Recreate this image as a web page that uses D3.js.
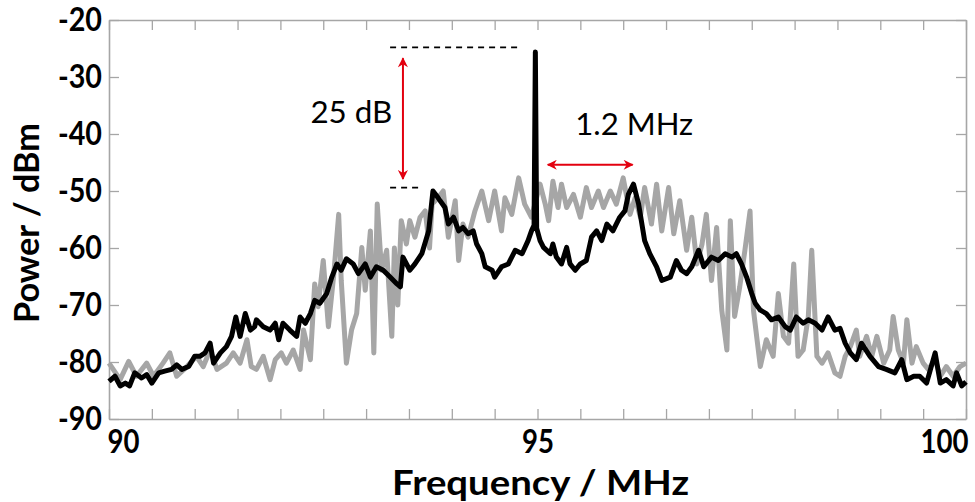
<!DOCTYPE html>
<html><head><meta charset="utf-8">
<script src="https://cdn.jsdelivr.net/npm/d3@7"></script>
<style>
html,body{margin:0;padding:0;background:#fff;}
svg{display:block;}
</style></head>
<body><svg id="chart" width="975" height="502"></svg>
<script>
// ---- data ----
const xTickValues = [90,90.5,91,91.5,92,92.5,93,93.5,94,94.5,95,95.5,96,96.5,97,97.5,98,98.5,99,99.5,100];
const xTickLabels = {90:"90",95:"95",100:"100"};
const yTickValues = [-90,-80,-70,-60,-50,-40,-30,-20];

const freqGray = [90.00,90.13,90.23,90.32,90.44,90.52,90.63,90.71,90.79,90.91,91.02,91.10,91.18,91.26,91.37,91.45,91.53,91.61,91.66,91.72,91.80,91.88,91.94,92.01,92.07,92.15,92.23,92.27,92.35,92.40,92.44,92.50,92.56,92.62,92.68,92.71,92.77,92.83,92.89,92.95,92.99,93.05,93.09,93.13,93.18,93.24,93.30,93.33,93.37,93.41,93.47,93.51,93.57,93.63,93.69,93.74,93.77,93.84,93.90,93.96,94.04,94.08,94.13,94.19,94.27,94.35,94.43,94.50,94.58,94.62,94.70,94.78,94.85,94.93,95.03,95.09,95.13,95.18,95.24,95.28,95.34,95.42,95.50,95.57,95.63,95.71,95.77,95.85,95.92,96.00,96.08,96.14,96.20,96.25,96.33,96.39,96.45,96.53,96.59,96.66,96.74,96.80,96.86,96.92,96.97,97.03,97.09,97.15,97.21,97.25,97.30,97.36,97.42,97.48,97.52,97.60,97.67,97.75,97.81,97.87,97.93,97.99,98.04,98.10,98.16,98.20,98.26,98.32,98.39,98.47,98.53,98.59,98.65,98.72,98.76,98.84,98.90,98.96,99.04,99.11,99.15,99.21,99.27,99.31,99.37,99.42,99.50,99.56,99.64,99.70,99.77,99.85,99.93,100.00];
const powerGray = [-80.2,-83.1,-79.9,-82.5,-80.2,-82.5,-80.2,-78.4,-82.5,-80.8,-79.0,-80.8,-77.9,-81.3,-80.2,-78.4,-80.2,-76.1,-80.8,-81.3,-79.0,-83.1,-79.6,-78.4,-80.2,-77.9,-81.3,-74.4,-79.6,-66.3,-70.3,-62.2,-73.8,-65.1,-54.1,-65.7,-80.2,-74.4,-71.5,-59.9,-67.4,-57.0,-78.4,-52.3,-63.9,-60.4,-75.5,-60.0,-70.0,-55.2,-59.3,-55.2,-58.1,-54.6,-53.5,-60.0,-52.3,-51.2,-50.0,-58.1,-51.7,-62.2,-55.8,-58.1,-53.5,-50.0,-55.2,-50.0,-57.0,-51.2,-54.1,-47.7,-52.3,-54.6,-48.8,-52.3,-55.2,-48.3,-52.9,-48.8,-52.9,-50.6,-54.6,-49.4,-52.9,-50.0,-52.9,-50.0,-52.3,-47.7,-54.1,-51.2,-54.6,-49.4,-55.8,-48.8,-57.0,-49.4,-57.5,-51.7,-60.4,-54.6,-62.8,-59.3,-54.1,-65.7,-56.4,-70.9,-77.9,-55.2,-72.0,-66.8,-60.4,-53.5,-70.9,-80.8,-76.1,-79.0,-68.0,-75.5,-76.7,-62.8,-79.0,-77.9,-72.0,-60.4,-79.0,-80.2,-78.4,-81.9,-82.5,-79.0,-77.3,-74.4,-79.0,-75.5,-79.0,-75.5,-80.2,-77.9,-72.0,-77.9,-80.2,-72.6,-80.2,-77.3,-80.2,-81.3,-79.6,-82.5,-80.8,-82.5,-80.8,-80.2];

const freqBlack = [90.00,90.07,90.13,90.19,90.24,90.30,90.38,90.44,90.50,90.58,90.65,90.73,90.79,90.85,90.93,91.00,91.06,91.12,91.18,91.22,91.30,91.37,91.43,91.48,91.53,91.59,91.65,91.70,91.72,91.80,91.88,91.94,91.98,92.03,92.11,92.19,92.23,92.29,92.35,92.40,92.46,92.54,92.60,92.66,92.71,92.77,92.85,92.91,92.99,93.05,93.12,93.20,93.28,93.36,93.40,93.43,93.51,93.57,93.65,93.73,93.78,93.84,93.92,93.96,94.02,94.08,94.13,94.19,94.25,94.29,94.35,94.39,94.47,94.50,94.58,94.66,94.74,94.82,94.89,94.93,94.96,94.975,94.99,95.03,95.07,95.15,95.18,95.22,95.28,95.34,95.38,95.44,95.50,95.57,95.63,95.69,95.75,95.81,95.88,95.96,96.02,96.06,96.12,96.18,96.25,96.31,96.39,96.45,96.55,96.62,96.68,96.74,96.80,96.88,96.94,97.03,97.11,97.19,97.27,97.32,97.38,97.44,97.50,97.54,97.60,97.67,97.73,97.81,97.89,97.95,98.02,98.10,98.16,98.24,98.32,98.39,98.47,98.53,98.59,98.65,98.72,98.78,98.88,98.98,99.07,99.17,99.25,99.31,99.39,99.46,99.54,99.64,99.70,99.77,99.85,99.89,99.95,100.00];
const powerBlack = [-83.4,-82.5,-84.2,-83.7,-84.2,-81.9,-82.8,-82.2,-83.7,-81.9,-81.6,-81.3,-80.5,-81.3,-80.8,-79.0,-79.0,-78.4,-76.7,-80.2,-78.4,-77.3,-75.5,-72.1,-75.5,-71.5,-74.4,-73.8,-72.6,-73.8,-74.4,-73.2,-76.1,-73.2,-74.4,-75.5,-72.1,-73.2,-71.5,-69.2,-69.7,-68.0,-65.1,-62.8,-63.9,-61.9,-62.8,-64.5,-62.8,-65.1,-63.3,-63.9,-65.1,-66.3,-66.8,-61.6,-63.9,-62.8,-61.0,-57.0,-50.0,-51.2,-52.9,-55.8,-54.6,-57.0,-56.4,-57.5,-57.0,-59.3,-61.0,-63.3,-63.9,-65.1,-63.3,-62.8,-60.4,-61.0,-58.7,-57.0,-56.0,-25.6,-56.5,-58.7,-59.9,-61.0,-59.3,-61.6,-62.8,-59.9,-62.8,-63.9,-62.8,-62.2,-58.1,-57.0,-58.7,-55.8,-57.0,-54.6,-53.5,-50.6,-48.8,-52.3,-58.7,-61.0,-63.3,-65.7,-65.1,-62.2,-63.9,-64.5,-63.3,-60.4,-63.3,-61.6,-62.2,-61.0,-61.6,-61.0,-62.8,-65.1,-68.0,-69.7,-70.9,-71.5,-72.6,-72.1,-73.8,-74.4,-72.1,-73.2,-72.6,-73.2,-74.4,-72.1,-74.4,-74.1,-76.7,-78.4,-79.6,-76.7,-79.0,-80.8,-81.3,-81.9,-79.6,-83.1,-82.5,-82.5,-83.7,-78.4,-83.7,-83.1,-84.2,-81.9,-84.2,-83.5];

// annotations (in data units)
const dashTop = [[93.28,-24.8],[94.80,-24.8]];
const dashBottom = [[93.28,-49.4],[93.65,-49.4]];
const arrowV = [[93.43,-26.7],[93.43,-47.9]];
const arrowH = [[95.12,-45.4],[96.11,-45.4]];
const labelDb = {text:"25 dB", f:92.35, p:-38.1};
const labelMhz = {text:"1.2 MHz", f:95.44, p:-40.2};

// ---- drawing ----
const svg = d3.select("#chart");
const x = d3.scaleLinear().domain([90,100]).range([109,966]);
const y = d3.scaleLinear().domain([-90,-20]).range([419,20]);
const frameColor = "#a6a6a6";
const tickFont = "Lato, 'Open Sans', sans-serif";

function styleAxis(g){
  g.selectAll("path.domain").attr("stroke",frameColor).attr("stroke-width",1.6);
  g.selectAll(".tick line").attr("stroke",frameColor).attr("stroke-width",1.3);
}

// top & right (no labels)
svg.append("g").attr("transform",`translate(0,${y(-20)})`)
  .call(d3.axisTop(x).tickValues(xTickValues).tickSizeInner(-10).tickSizeOuter(0).tickFormat(""))
  .call(styleAxis);
svg.append("g").attr("transform",`translate(${x(100)},0)`)
  .call(d3.axisRight(y).tickValues(yTickValues).tickSizeInner(-10).tickSizeOuter(0).tickFormat(""))
  .call(styleAxis);

// bottom axis
const gx = svg.append("g").attr("transform",`translate(0,${y(-90)})`)
  .call(d3.axisBottom(x).tickValues(xTickValues).tickSizeInner(-10).tickSizeOuter(0).tickPadding(11)
     .tickFormat(d => xTickLabels[d] || ""))
  .call(styleAxis);
gx.selectAll("text").attr("font-family",tickFont).attr("font-weight","bold")
  .attr("font-size",32).attr("fill","#000")
  .attr("text-anchor", d => d===90 ? "start" : d===100 ? "end" : "middle")
  .attr("x", d => d===90 ? -2 : d===100 ? 2 : 0)
  .each(function(d){ const t=xTickLabels[d]; if(t) d3.select(this).attr("textLength", t.length*16).attr("lengthAdjust","spacingAndGlyphs"); });

// left axis
const gy = svg.append("g").attr("transform",`translate(${x(90)},0)`)
  .call(d3.axisLeft(y).tickValues(yTickValues).tickSizeInner(-10).tickSizeOuter(0).tickPadding(7)
     .tickFormat(d => String(d)))
  .call(styleAxis);
gy.selectAll("text").attr("font-family",tickFont).attr("font-weight","bold")
  .attr("font-size",32).attr("fill","#000")
  .attr("textLength",44).attr("lengthAdjust","spacingAndGlyphs");

// axis titles
svg.append("text").attr("x",(x(90)+x(100))/2+3).attr("y",495)
  .attr("text-anchor","middle").attr("font-family",tickFont).attr("font-weight","bold")
  .attr("font-size",35).attr("textLength",297).attr("lengthAdjust","spacingAndGlyphs")
  .text("Frequency / MHz");
svg.append("text").attr("transform",`translate(39,${223}) rotate(-90)`)
  .attr("text-anchor","middle").attr("font-family",tickFont).attr("font-weight","bold")
  .attr("font-size",35).attr("textLength",200).attr("lengthAdjust","spacingAndGlyphs")
  .text("Power / dBm");

// series
const line = d3.line().x(d=>x(d[0])).y(d=>y(d[1]));
svg.append("path").datum(d3.zip(freqGray,powerGray))
  .attr("d",line).attr("fill","none").attr("stroke","#a6a6a6").attr("stroke-width",5)
  .attr("stroke-linejoin","round");
svg.append("path").datum(d3.zip(freqBlack,powerBlack))
  .attr("d",line).attr("fill","none").attr("stroke","#000").attr("stroke-width",5)
  .attr("stroke-linejoin","round");

// annotations
const red = "#e3000f";
const defs = svg.append("defs");
defs.append("marker").attr("id","ah").attr("viewBox","0 0 10 10").attr("refX",9).attr("refY",5)
  .attr("markerWidth",6).attr("markerHeight",5).attr("markerUnits","strokeWidth")
  .attr("orient","auto-start-reverse")
  .append("path").attr("d","M0,0 L10,5 L0,10 L3,5 Z").attr("fill",red);

const lin = d3.line().x(d=>x(d[0])).y(d=>y(d[1]));
[dashTop,dashBottom].forEach(seg=>{
  svg.append("path").attr("d",lin(seg)).attr("stroke","#000").attr("stroke-width",1.6)
    .attr("stroke-dasharray","6,5").attr("fill","none");
});
[arrowV,arrowH].forEach(seg=>{
  svg.append("path").attr("d",lin(seg)).attr("stroke",red).attr("stroke-width",2)
    .attr("fill","none").attr("marker-start","url(#ah)").attr("marker-end","url(#ah)");
});
svg.append("text").attr("x",x(labelDb.f)).attr("y",y(labelDb.p))
  .attr("font-family",tickFont).attr("font-size",30).attr("textLength",82).attr("lengthAdjust","spacingAndGlyphs")
  .text(labelDb.text);
svg.append("text").attr("x",x(labelMhz.f)).attr("y",y(labelMhz.p))
  .attr("font-family",tickFont).attr("font-size",30).attr("textLength",118).attr("lengthAdjust","spacingAndGlyphs")
  .text(labelMhz.text);
</script></body></html>
